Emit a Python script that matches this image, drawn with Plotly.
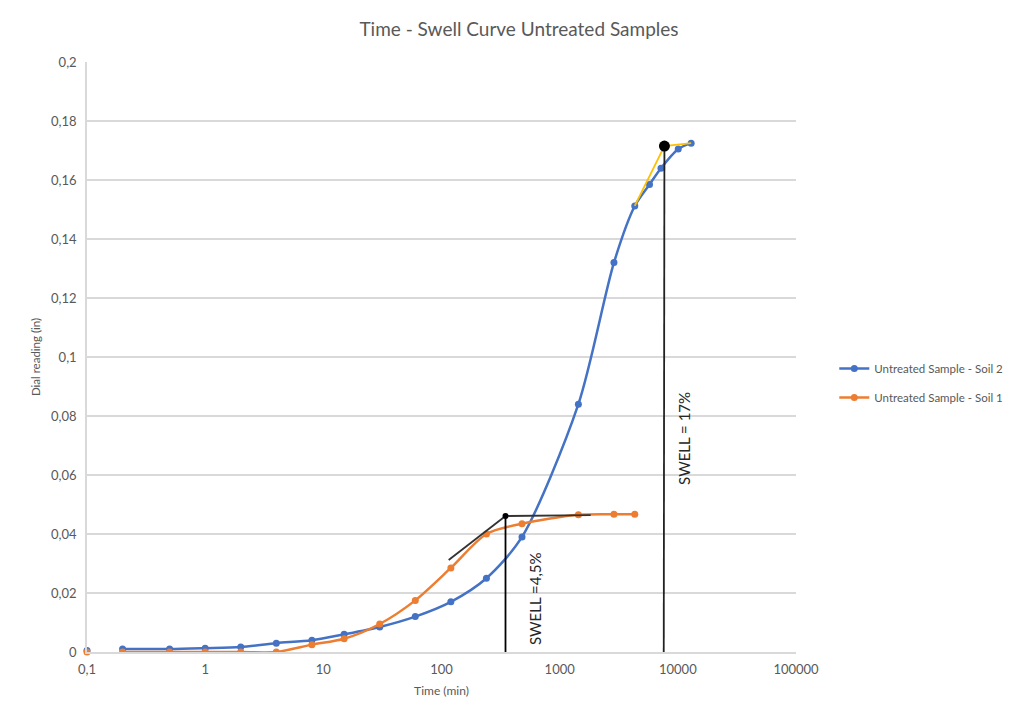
import math
import plotly.graph_objects as go

# ---- data ----
time_soil2 = [0.2, 0.5, 1, 2, 4, 8, 15, 30, 60, 120, 240, 480, 1440, 2880, 4320, 5760, 7200, 10080, 12960]
dial_soil2 = [0.001, 0.001, 0.0013, 0.0017, 0.003, 0.004, 0.006, 0.0085, 0.012, 0.017, 0.025, 0.039,
              0.084, 0.132, 0.1512, 0.1585, 0.164, 0.1705, 0.1725]

time_soil1 = [0.2, 0.5, 1, 2, 4, 8, 15, 30, 60, 120, 240, 480, 1440, 2880, 4320]
dial_soil1 = [0.0, 0.0, 0.0, 0.0, 0.0, 0.0025, 0.0045, 0.0095, 0.0175, 0.0285, 0.040, 0.0435,
              0.0465, 0.0467, 0.0467]

initial_time = [0.1]
initial_soil2 = [0.0005]
initial_soil1 = [0.0]

# construction lines (swell determination)
tangent1_x = [115, 348]
tangent1_y = [0.0312, 0.0461]
plateau1_x = [348, 1830]
plateau1_y = [0.0461, 0.0464]
swell1_x = [348, 348]
swell1_y = [0.0, 0.0461]
point1_x = [348]
point1_y = [0.0461]

tangent2_x = [4320, 7700, 12960]
tangent2_y = [0.1512, 0.1715, 0.1725]
swell2_x = [7600, 7700]
swell2_y = [0.0, 0.1715]
point2_x = [7700]
point2_y = [0.1715]

x_tickvals = [0.1, 1, 10, 100, 1000, 10000, 100000]
x_ticktext = ["0,1", "1", "10", "100", "1000", "10000", "100000"]
y_tickvals = [0, 0.02, 0.04, 0.06, 0.08, 0.1, 0.12, 0.14, 0.16, 0.18, 0.2]
y_ticktext = ["0", "0,02", "0,04", "0,06", "0,08", "0,1", "0,12", "0,14", "0,16", "0,18", "0,2"]

BLUE = "#4472C4"
ORANGE = "#ED7D31"
YELLOW = "#FFC000"
FONT = "Lato, sans-serif"
GREY = "#595959"

fig = go.Figure()

fig.add_trace(go.Scatter(x=time_soil2, y=dial_soil2, mode="lines+markers", name="Untreated Sample - Soil 2",
                         legendgroup="s2",
                         line=dict(color=BLUE, width=2.5, shape="spline", smoothing=0.8),
                         marker=dict(color=BLUE, size=7)))
fig.add_trace(go.Scatter(x=time_soil1, y=dial_soil1, mode="lines+markers", name="Untreated Sample - Soil 1",
                         legendgroup="s1",
                         line=dict(color=ORANGE, width=2.5, shape="spline", smoothing=0.8),
                         marker=dict(color=ORANGE, size=7)))
fig.add_trace(go.Scatter(x=initial_time, y=initial_soil2, mode="markers", showlegend=False, cliponaxis=False,
                         marker=dict(color=BLUE, size=7)))
fig.add_trace(go.Scatter(x=initial_time, y=initial_soil1, mode="markers", showlegend=False, cliponaxis=False,
                         marker=dict(color=ORANGE, size=7)))

# construction lines
for xs, ys, col in [(tangent1_x, tangent1_y, "#333333"), (plateau1_x, plateau1_y, "#333333"),
                    (swell1_x, swell1_y, "#000000"), (tangent2_x, tangent2_y, YELLOW),
                    (swell2_x, swell2_y, "#222222")]:
    fig.add_trace(go.Scatter(x=xs, y=ys, mode="lines", showlegend=False, hoverinfo="skip",
                             line=dict(color=col, width=1.8)))
fig.add_trace(go.Scatter(x=point1_x, y=point1_y, mode="markers", showlegend=False,
                         marker=dict(color="black", size=6)))
fig.add_trace(go.Scatter(x=point2_x, y=point2_y, mode="markers", showlegend=False,
                         marker=dict(color="black", size=11)))

fig.add_annotation(x=math.log10(627), y=0.0182, xref="x", yref="y", text="SWELL =4,5%", textangle=-90,
                   showarrow=False, font=dict(family=FONT, size=15, color="#262626"))
fig.add_annotation(x=math.log10(11240), y=0.0725, xref="x", yref="y", text="SWELL = 17%", textangle=-90,
                   showarrow=False, font=dict(family=FONT, size=15, color="#262626"))

fig.update_layout(
    width=1015, height=715,
    paper_bgcolor="white", plot_bgcolor="white",
    margin=dict(l=87, r=219, t=62, b=63, autoexpand=False),
    font=dict(family=FONT, color=GREY, size=13),
    title=dict(text="Time - Swell Curve Untreated Samples", x=519 / 1015, xanchor="center",
               y=1 - 29 / 715, yanchor="middle", font=dict(family=FONT, size=19, color=GREY)),
    legend=dict(x=1.054, xanchor="left", y=(652 - 383) / 590, yanchor="middle", itemwidth=30,
                font=dict(family=FONT, size=11.5, color=GREY), tracegroupgap=10),
    showlegend=True,
)
fig.update_xaxes(type="log", range=[-1, 5], tickvals=x_tickvals, ticktext=x_ticktext,
                 showgrid=False, showline=True, linecolor="#d9d9d9", linewidth=1.5,
                 zeroline=False, ticks="", ticklabelstandoff=5, tickfont=dict(size=13, color=GREY),
                 title=dict(text="Time (min)", font=dict(size=12, color=GREY), standoff=10))
fig.update_yaxes(range=[0, 0.2], tickvals=y_tickvals, ticktext=y_ticktext,
                 showgrid=True, gridcolor="#d9d9d9", gridwidth=1.5, showline=True, linecolor="#d9d9d9",
                 linewidth=1.5, zeroline=False, ticks="", ticklabelstandoff=6, tickfont=dict(size=13, color=GREY),
                 title=dict(text="Dial reading (in)", font=dict(size=11.5, color=GREY), standoff=8))

fig.write_html("out.html")
